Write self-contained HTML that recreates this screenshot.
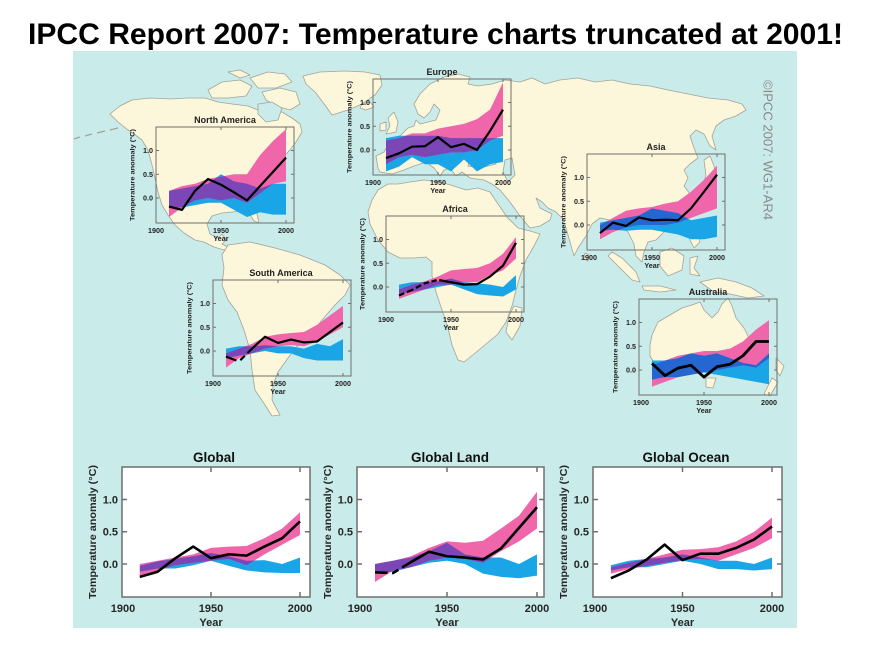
<!DOCTYPE html>
<html><head><meta charset="utf-8"><style>
html,body{margin:0;padding:0;background:#fff;}
svg{display:block;}
text{font-family:"Liberation Sans",Arial,sans-serif;}
</style></head><body>
<svg width="878" height="658" viewBox="0 0 878 658" xmlns="http://www.w3.org/2000/svg">
<defs>
<clipPath id="cG" clipPathUnits="userSpaceOnUse"><polygon points="10,0 20,.05 30,.1 40,.15 50,.25 60,.27 70,.28 80,.4 90,.55 100,.8 100,.45 90,.3 80,.15 70,-.02 60,.08 50,.05 40,.02 30,-.02 20,-.1 10,-.18"/></clipPath>
<clipPath id="cGL" clipPathUnits="userSpaceOnUse"><polygon points="10,0 20,.05 30,.12 40,.25 50,.35 60,.33 70,.36 80,.55 90,.75 100,1.12 100,.55 90,.35 80,.2 70,.02 60,.08 50,.1 40,.05 30,-.05 20,-.1 10,-.28"/></clipPath>
<clipPath id="cGO" clipPathUnits="userSpaceOnUse"><polygon points="10,-.05 20,.02 30,.08 40,.15 50,.22 60,.23 70,.26 80,.35 90,.5 100,.72 100,.4 90,.25 80,.15 70,.05 60,.08 50,.06 40,.02 30,-.03 20,-.08 10,-.15"/></clipPath>
<clipPath id="cNA" clipPathUnits="userSpaceOnUse"><polygon points="10,.15 20,.25 30,.3 40,.4 50,.45 60,.5 70,.5 80,.9 90,1.2 100,1.45 100,.35 90,.3 80,.1 70,-.1 60,0 50,-.05 40,0 30,-.05 20,-.2 10,-.4"/></clipPath>
<clipPath id="cEU" clipPathUnits="userSpaceOnUse"><polygon points="10,.2 20,.25 30,.35 40,.35 50,.45 60,.5 70,.55 80,.65 90,.85 100,1.42 100,.3 90,.2 80,0 70,-.05 60,-.05 50,-.1 40,-.15 30,-.1 20,-.15 10,-.3"/></clipPath>
<clipPath id="cAS" clipPathUnits="userSpaceOnUse"><polygon points="10,0 20,.15 30,.3 40,.35 50,.38 60,.45 70,.5 80,.7 90,.95 100,1.25 100,.35 90,.25 80,.15 70,.05 60,0 50,0 40,0 30,-.05 20,-.15 10,-.3"/></clipPath>
<clipPath id="cAF" clipPathUnits="userSpaceOnUse"><polygon points="10,-.05 20,.05 30,.12 40,.22 50,.35 60,.38 70,.4 80,.5 90,.7 100,1.05 100,.6 90,.35 80,.25 70,.1 60,.1 50,.05 40,.05 30,-.05 20,-.15 10,-.25"/></clipPath>
<clipPath id="cSA" clipPathUnits="userSpaceOnUse"><polygon points="10,-.05 20,.05 30,.15 40,.3 50,.35 60,.38 70,.4 80,.55 90,.75 100,.95 100,.5 90,.35 80,.2 70,.1 60,.12 50,.1 40,.05 30,-.05 20,-.15 10,-.35"/></clipPath>
<clipPath id="cAU" clipPathUnits="userSpaceOnUse"><polygon points="10,.1 20,.2 30,.3 40,.35 50,.4 60,.4 70,.45 80,.6 90,.85 100,1.05 100,.25 90,.05 80,.1 70,.05 60,0 50,-.05 40,-.1 30,-.15 20,-.25 10,-.35"/></clipPath>
</defs>

<rect x="0" y="0" width="878" height="658" fill="#ffffff"/>
<text x="28" y="44" font-size="30" font-weight="bold" fill="#000" textLength="815" lengthAdjust="spacingAndGlyphs">IPCC Report 2007: Temperature charts truncated at 2001!</text>

<rect x="73" y="51" width="724" height="577" fill="#c9ebe9"/>

<!-- MAP -->
<g fill="#fcf6da" stroke="#a3a39a" stroke-width="0.8" stroke-linejoin="round">
<polygon points="128,130 118,122 110,114 120,106 132,100 150,98 170,99 188,98 205,98 218,102 232,104 248,106 258,110 268,112 282,112 292,118 300,124 302,132 296,142 290,150 282,158 276,166 270,176 265,186 261,196 256,206 257,214 259,223 254,221 249,213 241,211 232,212 222,213 212,216 207,224 210,234 218,238 222,234 226,240 222,244 230,248 224,250 214,247 204,242 195,240 184,233 175,225 168,215 162,205 158,192 155,178 152,165 148,150 142,140 134,134"/>
<polygon points="208,90 222,82 240,80 252,86 246,96 228,98 212,98"/>
<polygon points="250,78 268,72 285,74 292,82 276,88 258,88"/>
<polygon points="262,92 280,88 296,92 300,104 290,110 276,106 266,100"/>
<polygon points="228,72 240,70 250,75 240,78"/>
<!-- Greenland -->
<polygon points="303,76 320,72 345,71 365,72 380,75 382,85 375,95 362,104 348,110 332,115 325,105 315,92 306,84"/>
<polygon points="362,104 370,102 374,107 366,110 360,108"/>
<polygon points="388,118 394,112 398,122 396,132 386,134 390,126"/>
<polygon points="380,124 386,122 386,130 380,131"/>
<!-- Eurasia -->
<polygon points="378,168 376,156 384,152 388,145 395,140 402,134 408,128 414,126 416,120 420,124 428,122 436,120 440,110 434,104 430,112 424,118 418,114 414,104 420,94 430,84 444,77 458,74 470,77 468,84 478,86 492,84 505,80 520,82 532,78 545,84 560,80 578,78 595,82 612,80 630,84 650,86 668,90 688,94 708,98 728,100 742,104 746,110 736,116 724,120 716,126 712,136 716,150 710,146 704,134 696,130 690,136 694,148 698,158 690,164 684,170 688,178 684,186 690,194 682,202 672,208 664,214 660,222 664,232 656,240 648,242 644,252 642,262 636,256 634,244 628,232 620,226 610,220 600,218 592,224 586,236 578,248 574,256 570,242 566,228 562,218 556,212 548,208 542,202 536,198 540,208 552,214 550,220 540,226 530,228 520,216 510,202 500,190 492,184 484,180 470,178 462,172 456,176 450,168 444,170 440,176 434,168 426,162 414,166 404,170 392,174 380,172"/>
<!-- Africa -->
<polygon points="378,190 372,200 368,212 370,224 378,240 388,252 400,258 414,258 426,257 432,262 432,276 436,292 442,310 448,328 452,345 458,360 464,362 474,354 486,344 498,334 506,322 512,306 516,290 520,276 526,260 534,246 540,234 530,231 518,228 507,217 498,204 490,192 478,188 466,190 454,186 440,182 424,180 410,182 398,184 388,184"/>
<polygon points="514,306 522,308 520,326 512,340 506,332 509,316"/>
<!-- South America -->
<polygon points="228,245 250,242 275,248 300,255 325,265 340,275 350,285 345,295 335,305 322,320 310,335 300,342 288,358 278,372 273,385 272,400 280,415 272,416 265,405 255,390 252,370 250,350 244,330 237,312 228,300 222,285 224,268 222,255"/>
<polygon points="704,160 710,156 714,166 716,178 710,188 702,186 706,176"/>
<polygon points="612,252 622,258 636,272 640,282 632,280 618,266 608,256"/>
<polygon points="642,286 660,286 676,290 660,292 644,290"/>
<polygon points="660,252 672,248 684,256 682,270 668,276 660,266"/>
<polygon points="690,258 698,256 694,268 700,276 690,274"/>
<polygon points="688,222 696,226 700,242 694,248 688,236"/>
<polygon points="700,282 718,278 736,282 752,288 764,296 748,298 730,294 714,292"/>
<polygon points="585,253 589,255 588,261 584,259"/>
<!-- Australia -->
<polygon points="652,335 658,322 670,315 682,308 692,305 700,302 704,310 712,318 718,312 722,304 728,298 732,306 736,318 744,328 750,340 752,352 748,362 740,370 728,372 718,366 708,362 698,366 684,362 670,364 656,366 650,356 650,345"/>
<polygon points="706,378 716,378 713,388 706,387"/>
<polygon points="776,358 784,366 780,376 776,370"/>
<polygon points="772,378 778,382 770,396 764,394"/>
</g>
<g fill="#c9ebe9" stroke="#a3a39a" stroke-width="0.8">
<polygon points="258,104 272,102 282,108 278,120 266,122 258,114"/>
<polygon points="470,158 490,156 496,164 480,168 468,166"/>
<polygon points="505,160 512,158 515,175 508,182 503,172"/>
</g>
<g stroke="#a3a39a" stroke-width="1.2" fill="none">
<path d="M118,128 L110,130 M105,131 L97,133 M92,134 L85,136 M80,137 L74,139"/>
</g>

<text transform="translate(763.5,150) rotate(90)" text-anchor="middle" font-size="13" fill="#8a8a8a" textLength="140" lengthAdjust="spacingAndGlyphs">©IPCC 2007: WG1-AR4</text>

<!-- INSETS -->
<g transform="translate(156,198) scale(1.3,-47.5)">
<polygon fill="#1aa5e6" points="10,.15 20,.2 30,.25 40,.3 50,.5 60,.35 70,.3 80,.2 90,.3 100,.3 100,-.35 90,-.35 80,-.3 70,-.4 60,-.25 50,-.1 40,-.1 30,-.15 20,-.2 10,-.2"/>
<polygon fill="#f066aa" points="10,.15 20,.25 30,.3 40,.4 50,.45 60,.5 70,.5 80,.9 90,1.2 100,1.45 100,.35 90,.3 80,.1 70,-.1 60,0 50,-.05 40,0 30,-.05 20,-.2 10,-.4"/>
<polygon fill="#7b47b6" clip-path="url(#cNA)" points="10,.15 20,.2 30,.25 40,.3 50,.5 60,.35 70,.3 80,.2 90,.3 100,.3 100,-.35 90,-.35 80,-.3 70,-.4 60,-.25 50,-.1 40,-.1 30,-.15 20,-.2 10,-.2"/>
<polyline fill="none" stroke="#000" stroke-width="2.2" stroke-linejoin="round" vector-effect="non-scaling-stroke" points="10,-.18 20,-.25 30,.15 40,.4 50,.28 60,.12 70,-.05 80,.25 90,.55 100,.85"/>
</g>
<g transform="translate(373,150) scale(1.3,-47.5)">
<polygon fill="#1aa5e6" points="10,.25 20,.3 30,.3 40,.3 50,.3 60,.25 70,.25 80,.25 90,.25 100,.25 100,-.25 90,-.3 80,-.45 70,-.2 60,-.45 50,-.3 40,-.3 30,-.15 20,-.35 10,-.45"/>
<polygon fill="#f066aa" points="10,.2 20,.25 30,.35 40,.35 50,.45 60,.5 70,.55 80,.65 90,.85 100,1.42 100,.3 90,.2 80,0 70,-.05 60,-.05 50,-.1 40,-.15 30,-.1 20,-.15 10,-.3"/>
<polygon fill="#7b47b6" clip-path="url(#cEU)" points="10,.25 20,.3 30,.3 40,.3 50,.3 60,.25 70,.25 80,.25 90,.25 100,.25 100,-.25 90,-.3 80,-.45 70,-.2 60,-.45 50,-.3 40,-.3 30,-.15 20,-.35 10,-.45"/>
<polyline fill="none" stroke="#000" stroke-width="2.2" stroke-linejoin="round" vector-effect="non-scaling-stroke" points="10,-.17 20,-.07 30,.07 40,.08 50,.27 60,.06 70,.13 80,0 90,.4 100,.85"/>
</g>
<g transform="translate(587,225) scale(1.3,-47.5)">
<polygon fill="#1aa5e6" points="10,.05 20,.1 30,.15 40,.2 50,.35 60,.3 70,.25 80,.1 90,.15 100,.2 100,-.25 90,-.3 80,-.3 70,-.2 60,-.15 50,-.1 40,-.1 30,-.12 20,-.1 10,-.12"/>
<polygon fill="#f066aa" points="10,0 20,.15 30,.3 40,.35 50,.38 60,.45 70,.5 80,.7 90,.95 100,1.25 100,.35 90,.25 80,.15 70,.05 60,0 50,0 40,0 30,-.05 20,-.15 10,-.3"/>
<polygon fill="#2566d0" clip-path="url(#cAS)" points="10,.05 20,.1 30,.15 40,.2 50,.35 60,.3 70,.25 80,.1 90,.15 100,.2 100,-.25 90,-.3 80,-.3 70,-.2 60,-.15 50,-.1 40,-.1 30,-.12 20,-.1 10,-.12"/>
<polyline fill="none" stroke="#000" stroke-width="2.2" stroke-linejoin="round" vector-effect="non-scaling-stroke" points="10,-.17 20,.05 30,-.02 40,.16 50,.1 60,.11 70,.1 80,.35 90,.7 100,1.06"/>
</g>
<g transform="translate(386,287) scale(1.3,-47.5)">
<polygon fill="#1aa5e6" points="10,.05 20,.1 30,.1 40,.12 50,.18 60,.1 70,.08 80,.05 90,0 100,.25 100,-.05 90,-.2 80,-.18 70,-.15 60,-.05 50,.05 40,0 30,-.05 20,-.1 10,-.15"/>
<polygon fill="#f066aa" points="10,-.05 20,.05 30,.12 40,.22 50,.35 60,.38 70,.4 80,.5 90,.7 100,1.05 100,.6 90,.35 80,.25 70,.1 60,.1 50,.05 40,.05 30,-.05 20,-.15 10,-.25"/>
<polygon fill="#7b47b6" clip-path="url(#cAF)" points="10,.05 20,.1 30,.1 40,.12 50,.18 60,.1 70,.08 80,.05 90,0 100,.25 100,-.05 90,-.2 80,-.18 70,-.15 60,-.05 50,.05 40,0 30,-.05 20,-.1 10,-.15"/>
<g fill="none" stroke="#000" stroke-width="2.2" stroke-linejoin="round">
<polyline vector-effect="non-scaling-stroke" points="10,-.18 14,-.132"/>
<polyline vector-effect="non-scaling-stroke" points="16,-.108 20,-.06 21,-.046"/>
<polyline vector-effect="non-scaling-stroke" points="23,-.018 27,.038"/>
<polyline vector-effect="non-scaling-stroke" points="29,.066 30,.08 33,.101"/>
<polyline vector-effect="non-scaling-stroke" points="35,.115 39,.143"/>
<polyline vector-effect="non-scaling-stroke" points="41,.145 50,.1 60,.05 70,.06 80,.22 90,.45 100,.93"/>
</g>
</g>
<g transform="translate(213,351) scale(1.3,-47.5)">
<polygon fill="#1aa5e6" points="10,.05 20,.1 30,.1 40,.12 50,.1 60,.1 70,.05 80,.15 90,.1 100,.25 100,-.2 90,-.2 80,-.2 70,-.15 60,-.05 50,-.05 40,0 30,-.05 20,-.1 10,-.15"/>
<polygon fill="#f066aa" points="10,-.05 20,.05 30,.15 40,.3 50,.35 60,.38 70,.4 80,.55 90,.75 100,.95 100,.5 90,.35 80,.2 70,.1 60,.12 50,.1 40,.05 30,-.05 20,-.15 10,-.35"/>
<polygon fill="#7b47b6" clip-path="url(#cSA)" points="10,.05 20,.1 30,.1 40,.12 50,.1 60,.1 70,.05 80,.15 90,.1 100,.25 100,-.2 90,-.2 80,-.2 70,-.15 60,-.05 50,-.05 40,0 30,-.05 20,-.1 10,-.15"/>
<g fill="none" stroke="#000" stroke-width="2.2" stroke-linejoin="round">
<polyline vector-effect="non-scaling-stroke" points="10,-.12 18,-.2"/>
<polyline vector-effect="non-scaling-stroke" points="21,-.193 24.5,-.1"/>
<polyline vector-effect="non-scaling-stroke" points="26.5,-.045 30,.05 40,.3 50,.17 60,.24 70,.18 80,.2 90,.4 100,.6"/>
</g>
</g>
<g transform="translate(639,370) scale(1.3,-47.5)">
<polygon fill="#1aa5e6" points="10,.2 20,.2 30,.25 40,.35 50,.3 60,.35 70,.25 80,.15 90,.1 100,.35 100,-.3 90,-.25 80,-.2 70,-.15 60,-.1 50,-.05 40,-.1 30,-.15 20,-.15 10,-.2"/>
<polygon fill="#f066aa" points="10,.1 20,.2 30,.3 40,.35 50,.4 60,.4 70,.45 80,.6 90,.85 100,1.05 100,.25 90,.05 80,.1 70,.05 60,0 50,-.05 40,-.1 30,-.15 20,-.25 10,-.35"/>
<polygon fill="#2566d0" clip-path="url(#cAU)" points="10,.2 20,.2 30,.25 40,.35 50,.3 60,.35 70,.25 80,.15 90,.1 100,.35 100,-.3 90,-.25 80,-.2 70,-.15 60,-.1 50,-.05 40,-.1 30,-.15 20,-.15 10,-.2"/>
<polyline fill="none" stroke="#000" stroke-width="2.8" stroke-linejoin="round" vector-effect="non-scaling-stroke" points="10,.14 20,-.12 30,.04 40,.1 50,-.15 60,.07 70,.12 80,.3 90,.6 100,.6"/>
</g>

<g fill="none" stroke="#6f6f6f" stroke-width="1">
<rect x="156" y="127" width="138" height="96"/>
<rect x="373" y="79" width="138" height="96"/>
<rect x="587" y="154" width="138" height="96"/>
<rect x="386" y="216" width="138" height="96"/>
<rect x="213" y="280" width="138" height="96"/>
<rect x="639" y="299" width="138" height="96"/>
<path d="M156,198h3M156,174.25h3M156,150.5h3M294,198h-3M294,174.25h-3M294,150.5h-3M221,127v3M286,127v3M221,223v-3M286,223v-3"/>
<path d="M373,150h3M373,126.25h3M373,102.5h3M511,150h-3M511,126.25h-3M511,102.5h-3M438,79v3M503,79v3M438,175v-3M503,175v-3"/>
<path d="M587,225h3M587,201.25h3M587,177.5h3M725,225h-3M725,201.25h-3M725,177.5h-3M652,154v3M717,154v3M652,250v-3M717,250v-3"/>
<path d="M386,287h3M386,263.25h3M386,239.5h3M524,287h-3M524,263.25h-3M524,239.5h-3M451,216v3M516,216v3M451,312v-3M516,312v-3"/>
<path d="M213,351h3M213,327.25h3M213,303.5h3M351,351h-3M351,327.25h-3M351,303.5h-3M278,280v3M343,280v3M278,376v-3M343,376v-3"/>
<path d="M639,370h3M639,346.25h3M639,322.5h3M777,370h-3M777,346.25h-3M777,322.5h-3M704,299v3M769,299v3M704,395v-3M769,395v-3"/>
</g>

<g fill="#222" font-size="7.2" font-weight="bold">
<text x="225" y="123" text-anchor="middle" font-size="9">North America</text>
<text x="153" y="200.6" text-anchor="end">0.0</text><text x="153" y="176.8" text-anchor="end">0.5</text><text x="153" y="153.1" text-anchor="end">1.0</text>
<text x="156" y="233" text-anchor="middle">1900</text><text x="221" y="233" text-anchor="middle">1950</text><text x="286" y="233" text-anchor="middle">2000</text>
<text x="221" y="241" text-anchor="middle">Year</text>
<text transform="translate(134.5,175) rotate(-90)" text-anchor="middle" font-size="6.3" textLength="92" lengthAdjust="spacingAndGlyphs">Temperature anomaly (°C)</text>
<text x="442" y="75" text-anchor="middle" font-size="9">Europe</text>
<text x="370" y="152.6" text-anchor="end">0.0</text><text x="370" y="128.8" text-anchor="end">0.5</text><text x="370" y="105.1" text-anchor="end">1.0</text>
<text x="373" y="185" text-anchor="middle">1900</text><text x="438" y="185" text-anchor="middle">1950</text><text x="503" y="185" text-anchor="middle">2000</text>
<text x="438" y="193" text-anchor="middle">Year</text>
<text transform="translate(351.5,127) rotate(-90)" text-anchor="middle" font-size="6.3" textLength="92" lengthAdjust="spacingAndGlyphs">Temperature anomaly (°C)</text>
<text x="656" y="150" text-anchor="middle" font-size="9">Asia</text>
<text x="584" y="227.6" text-anchor="end">0.0</text><text x="584" y="203.8" text-anchor="end">0.5</text><text x="584" y="180.1" text-anchor="end">1.0</text>
<text x="589" y="260" text-anchor="middle">1900</text><text x="652" y="260" text-anchor="middle">1950</text><text x="717" y="260" text-anchor="middle">2000</text>
<text x="652" y="268" text-anchor="middle">Year</text>
<text transform="translate(565.5,202) rotate(-90)" text-anchor="middle" font-size="6.3" textLength="92" lengthAdjust="spacingAndGlyphs">Temperature anomaly (°C)</text>
<text x="455" y="212" text-anchor="middle" font-size="9">Africa</text>
<text x="383" y="289.6" text-anchor="end">0.0</text><text x="383" y="265.8" text-anchor="end">0.5</text><text x="383" y="242.1" text-anchor="end">1.0</text>
<text x="386" y="322" text-anchor="middle">1900</text><text x="451" y="322" text-anchor="middle">1950</text><text x="516" y="322" text-anchor="middle">2000</text>
<text x="451" y="330" text-anchor="middle">Year</text>
<text transform="translate(364.5,264) rotate(-90)" text-anchor="middle" font-size="6.3" textLength="92" lengthAdjust="spacingAndGlyphs">Temperature anomaly (°C)</text>
<text x="281" y="276" text-anchor="middle" font-size="9">South America</text>
<text x="210" y="353.6" text-anchor="end">0.0</text><text x="210" y="329.8" text-anchor="end">0.5</text><text x="210" y="306.1" text-anchor="end">1.0</text>
<text x="213" y="386" text-anchor="middle">1900</text><text x="278" y="386" text-anchor="middle">1950</text><text x="343" y="386" text-anchor="middle">2000</text>
<text x="278" y="394" text-anchor="middle">Year</text>
<text transform="translate(191.5,328) rotate(-90)" text-anchor="middle" font-size="6.3" textLength="92" lengthAdjust="spacingAndGlyphs">Temperature anomaly (°C)</text>
<text x="708" y="295" text-anchor="middle" font-size="9">Australia</text>
<text x="636" y="372.6" text-anchor="end">0.0</text><text x="636" y="348.8" text-anchor="end">0.5</text><text x="636" y="325.1" text-anchor="end">1.0</text>
<text x="641" y="405" text-anchor="middle">1900</text><text x="704" y="405" text-anchor="middle">1950</text><text x="769" y="405" text-anchor="middle">2000</text>
<text x="704" y="413" text-anchor="middle">Year</text>
<text transform="translate(617.5,347) rotate(-90)" text-anchor="middle" font-size="6.3" textLength="92" lengthAdjust="spacingAndGlyphs">Temperature anomaly (°C)</text>
</g>

<!-- BIG CHARTS -->
<rect x="122" y="467" width="188" height="130" fill="#ffffff"/>
<rect x="357" y="467" width="187" height="130" fill="#ffffff"/>
<rect x="593" y="467" width="189" height="130" fill="#ffffff"/>

<g transform="translate(122,564) scale(1.78,-64.5)">
<polygon fill="#1aa5e6" points="10,-.03 20,.04 30,.08 40,.12 50,.17 60,.12 70,.05 80,.06 90,0 100,.1 100,-.14 90,-.14 80,-.13 70,-.1 60,-.03 50,.05 40,-.02 30,-.07 20,-.07 10,-.12"/>
<polygon fill="#f066aa" points="10,0 20,.05 30,.1 40,.15 50,.25 60,.27 70,.28 80,.4 90,.55 100,.8 100,.45 90,.3 80,.15 70,-.02 60,.08 50,.05 40,.02 30,-.02 20,-.1 10,-.18"/>
<polygon fill="#7b47b6" clip-path="url(#cG)" points="10,-.03 20,.04 30,.08 40,.12 50,.17 60,.12 70,.05 80,.06 90,0 100,.1 100,-.14 90,-.14 80,-.13 70,-.1 60,-.03 50,.05 40,-.02 30,-.07 20,-.07 10,-.12"/>
<polyline fill="none" stroke="#000" stroke-width="2.6" stroke-linejoin="round" vector-effect="non-scaling-stroke" points="10,-.2 20,-.12 30,.09 40,.27 50,.09 60,.15 70,.13 80,.27 90,.4 100,.66"/>
</g>
<g transform="translate(357,564) scale(1.8,-64.5)">
<polygon fill="#1aa5e6" points="10,0 20,.05 30,.1 40,.2 50,.33 60,.15 70,.1 80,.1 90,0 100,.15 100,-.18 90,-.22 80,-.2 70,-.15 60,0 50,.05 40,.02 30,-.05 20,-.12 10,-.15"/>
<polygon fill="#f066aa" points="10,0 20,.05 30,.12 40,.25 50,.35 60,.33 70,.36 80,.55 90,.75 100,1.12 100,.55 90,.35 80,.2 70,.02 60,.08 50,.1 40,.05 30,-.05 20,-.1 10,-.28"/>
<polygon fill="#7b47b6" clip-path="url(#cGL)" points="10,0 20,.05 30,.1 40,.2 50,.33 60,.15 70,.1 80,.1 90,0 100,.15 100,-.18 90,-.22 80,-.2 70,-.15 60,0 50,.05 40,.02 30,-.05 20,-.12 10,-.15"/>
<g fill="none" stroke="#000" stroke-width="2.6" stroke-linejoin="round">
<polyline vector-effect="non-scaling-stroke" points="10,-.13 17,-.137"/>
<polyline vector-effect="non-scaling-stroke" points="19.5,-.139 20,-.14 23,-.089"/>
<polyline vector-effect="non-scaling-stroke" points="25,-.055 30,.03 40,.19 50,.12 60,.1 70,.07 80,.24 90,.56 100,.88"/>
</g>
</g>
<g transform="translate(593,564) scale(1.79,-64.5)">
<polygon fill="#1aa5e6" points="10,-.02 20,.05 30,.08 40,.1 50,.15 60,.1 70,.05 80,.05 90,0 100,.1 100,-.08 90,-.1 80,-.08 70,-.08 60,0 50,.05 40,0 30,-.05 20,-.05 10,-.1"/>
<polygon fill="#f066aa" points="10,-.05 20,.02 30,.08 40,.15 50,.22 60,.23 70,.26 80,.35 90,.5 100,.72 100,.4 90,.25 80,.15 70,.05 60,.08 50,.06 40,.02 30,-.03 20,-.08 10,-.15"/>
<polygon fill="#7b47b6" clip-path="url(#cGO)" points="10,-.02 20,.05 30,.08 40,.1 50,.15 60,.1 70,.05 80,.05 90,0 100,.1 100,-.08 90,-.1 80,-.08 70,-.08 60,0 50,.05 40,0 30,-.05 20,-.05 10,-.1"/>
<polyline fill="none" stroke="#000" stroke-width="2.6" stroke-linejoin="round" vector-effect="non-scaling-stroke" points="10,-.22 20,-.1 30,.07 40,.3 50,.06 60,.16 70,.16 80,.25 90,.38 100,.58"/>
</g>

<g fill="none" stroke="#6f6f6f" stroke-width="1.5">
<rect x="122" y="467" width="188" height="130"/>
<rect x="357" y="467" width="187" height="130"/>
<rect x="593" y="467" width="189" height="130"/>
<path d="M122,564h5M122,531.75h5M122,499.5h5M310,564h-5M310,531.75h-5M310,499.5h-5M211,467v5M300,467v5M211,597v-5M300,597v-5"/>
<path d="M357,564h5M357,531.75h5M357,499.5h5M544,564h-5M544,531.75h-5M544,499.5h-5M447,467v5M537,467v5M447,597v-5M537,597v-5"/>
<path d="M593,564h5M593,531.75h5M593,499.5h5M782,564h-5M782,531.75h-5M782,499.5h-5M682.5,467v5M772,467v5M682.5,597v-5M772,597v-5"/>
</g>

<g fill="#262626" font-size="11" font-weight="bold">
<text x="214" y="462" text-anchor="middle" font-size="13.5" fill="#111">Global</text>
<text x="450" y="462" text-anchor="middle" font-size="13.5" fill="#111">Global Land</text>
<text x="686" y="462" text-anchor="middle" font-size="13.5" fill="#111">Global Ocean</text>
<text x="118" y="568" text-anchor="end">0.0</text><text x="118" y="535.7" text-anchor="end">0.5</text><text x="118" y="503.5" text-anchor="end">1.0</text>
<text x="353" y="568" text-anchor="end">0.0</text><text x="353" y="535.7" text-anchor="end">0.5</text><text x="353" y="503.5" text-anchor="end">1.0</text>
<text x="589" y="568" text-anchor="end">0.0</text><text x="589" y="535.7" text-anchor="end">0.5</text><text x="589" y="503.5" text-anchor="end">1.0</text>
<text x="123" y="612" text-anchor="middle">1900</text><text x="211" y="612" text-anchor="middle">1950</text><text x="300" y="612" text-anchor="middle">2000</text>
<text x="360" y="612" text-anchor="middle">1900</text><text x="447" y="612" text-anchor="middle">1950</text><text x="537" y="612" text-anchor="middle">2000</text>
<text x="595" y="612" text-anchor="middle">1900</text><text x="682.5" y="612" text-anchor="middle">1950</text><text x="772" y="612" text-anchor="middle">2000</text>
<text x="211" y="626" text-anchor="middle">Year</text>
<text x="447" y="626" text-anchor="middle">Year</text>
<text x="682.5" y="626" text-anchor="middle">Year</text>
<text transform="translate(96,532) rotate(-90)" text-anchor="middle" font-size="10.5" textLength="134" lengthAdjust="spacingAndGlyphs">Temperature anomaly (°C)</text>
<text transform="translate(331,532) rotate(-90)" text-anchor="middle" font-size="10.5" textLength="134" lengthAdjust="spacingAndGlyphs">Temperature anomaly (°C)</text>
<text transform="translate(567,532) rotate(-90)" text-anchor="middle" font-size="10.5" textLength="134" lengthAdjust="spacingAndGlyphs">Temperature anomaly (°C)</text>
</g>
</svg>
</body></html>
